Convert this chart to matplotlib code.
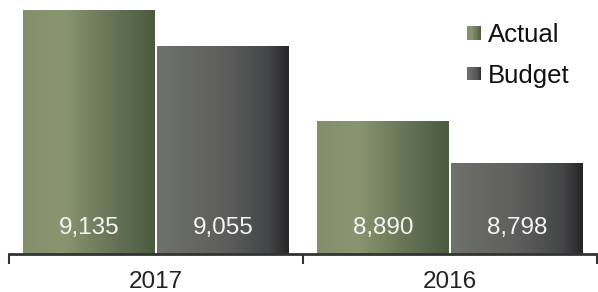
import matplotlib.pyplot as plt
import numpy as np
from matplotlib.colors import LinearSegmentedColormap
from matplotlib.legend_handler import HandlerBase
from matplotlib.patches import Rectangle

categories = ["2017", "2016"]
series = ["Actual", "Budget"]
actual = [9135, 8890]
budget = [9055, 8798]
labels = ["9,135", "8,890", "9,055", "8,798"]

plt.rcParams['font.family'] = ['Liberation Sans', 'DejaVu Sans']

cmaps = {
    "Actual": LinearSegmentedColormap.from_list(
        "act", [(0, "#838f6b"), (0.3, "#8a9670"), (0.7, "#647255"), (1, "#4c5b3e")]),
    "Budget": LinearSegmentedColormap.from_list(
        "bud", [(0, "#6f716c"), (0.5, "#5e5f5d"), (0.85, "#444546"), (1, "#262426")]),
}


class GradientHandler(HandlerBase):
    def __init__(self, cmap):
        super().__init__()
        self.cmap = cmap

    def create_artists(self, legend, orig_handle, xdescent, ydescent,
                       width, height, fontsize, trans):
        n = 12
        w = width / n
        arts = []
        for i in range(n):
            r = Rectangle((-xdescent + i * w, -ydescent), w * 1.05, height,
                          facecolor=self.cmap((i + 0.5) / n), edgecolor='none',
                          transform=trans)
            arts.append(r)
        return arts


fig = plt.figure(figsize=(5.98, 2.92), dpi=100)
ax = fig.add_axes([9 / 598, 38 / 292, 588 / 598, 254 / 292])

x = np.arange(len(categories))
width = 0.455
bars_a = ax.bar(x - width / 2, actual, width, bottom=0, color='none', edgecolor='none')
bars_b = ax.bar(x + width / 2, budget, width, bottom=0, color='none', edgecolor='none')

ymin, ymax = 8600, 9157
grad = np.linspace(0, 1, 256).reshape(1, -1)
for name, bars in (("Actual", bars_a), ("Budget", bars_b)):
    for b in bars:
        x0 = b.get_x() + 0.004
        x1 = b.get_x() + b.get_width() - 0.004
        ax.imshow(grad, cmap=cmaps[name], aspect='auto',
                  extent=(x0, x1, ymin, b.get_height()), zorder=2)

for b, lab in zip(list(bars_a) + list(bars_b), labels):
    ax.text(b.get_x() + b.get_width() / 2, ymin + 57, lab, ha='center', va='center',
            fontsize=17.5, color='#f4f4f4', zorder=3)

ax.set_xlim(-0.5, 1.5)
ax.set_ylim(ymin, ymax)
ax.set_yticks([])
for s in ['top', 'right', 'left']:
    ax.spines[s].set_visible(False)
ax.spines['bottom'].set_color('#333333')
ax.spines['bottom'].set_linewidth(2)
ax.spines['bottom'].set_zorder(4)

ax.set_xticks(x)
ax.set_xticklabels(categories, fontsize=17.5, color='#222222')
ax.tick_params(axis='x', which='major', length=0, pad=12)
ax.set_xticks([-0.5, 0.5, 1.5], minor=True)
ax.tick_params(axis='x', which='minor', length=7, width=1.5, color='#333333', direction='out')

h_a = Rectangle((0, 0), 1, 1)
h_b = Rectangle((0, 0), 1, 1)
ax.legend([h_a, h_b], series, loc='upper left', bbox_to_anchor=(448 / 588, 0.95),
          frameon=False, handlelength=0.55, handleheight=0.45,
          handletextpad=0.25, labelspacing=0.65, borderaxespad=0.0,
          handler_map={h_a: GradientHandler(cmaps["Actual"]),
                       h_b: GradientHandler(cmaps["Budget"])},
          prop={'size': 18.5}, labelcolor='#111111')

fig.savefig("out.png", dpi=100, facecolor='white')
